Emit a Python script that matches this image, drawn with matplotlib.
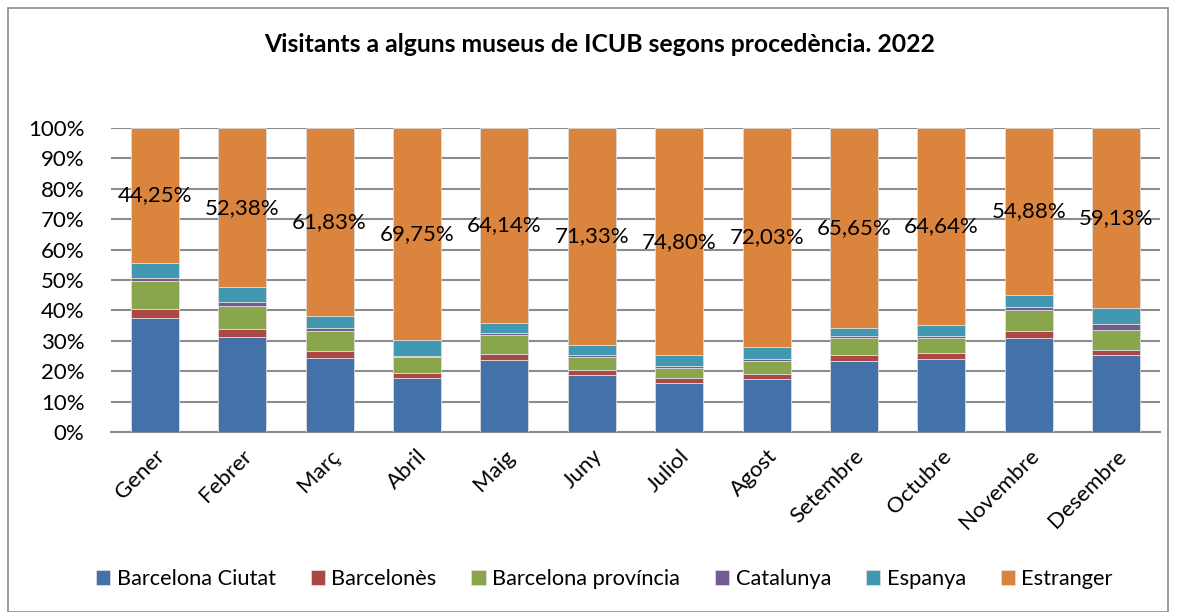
import numpy as np
import matplotlib.pyplot as plt
from matplotlib.patches import Rectangle

# DADES (percentatges per mes, llegits del gràfic)
mesos = ['Gener', 'Febrer', 'Març', 'Abril', 'Maig', 'Juny',
         'Juliol', 'Agost', 'Setembre', 'Octubre', 'Novembre', 'Desembre']

barcelona_ciutat = [37.6, 31.4, 24.5, 17.8, 23.8, 18.6, 16.2, 17.4, 23.4, 24.0, 31.0, 25.2]
barcelones = [2.8, 2.4, 2.1, 1.6, 2.0, 1.8, 1.6, 1.7, 1.8, 1.9, 2.2, 1.8]
barcelona_provincia = [9.2, 7.8, 6.6, 5.2, 6.0, 4.3, 3.4, 4.2, 5.6, 4.9, 6.9, 6.4]
catalunya = [1.1, 1.2, 1.0, 0.5, 0.9, 0.5, 0.6, 0.6, 0.8, 0.7, 1.0, 2.1]
espanya = [5.05, 4.82, 3.97, 5.15, 3.16, 3.47, 3.40, 4.07, 2.75, 3.86, 4.02, 5.37]
estranger = [44.25, 52.38, 61.83, 69.75, 64.14, 71.33, 74.80, 72.03, 65.65, 64.64, 54.88, 59.13]

series = [
    ('Barcelona Ciutat', barcelona_ciutat, '#4472a8'),
    ('Barcelonès', barcelones, '#ab4744'),
    ('Barcelona província', barcelona_provincia, '#8aa64c'),
    ('Catalunya', catalunya, '#735a93'),
    ('Espanya', espanya, '#4298b0'),
    ('Estranger', estranger, '#db843d'),
]

plt.rcParams['font.family'] = ['Lato', 'DejaVu Sans']

fig = plt.figure(figsize=(11.78, 6.12), dpi=100)
ax = fig.add_axes([111 / 1178, 1 - 432 / 612, 1049 / 1178, 304 / 612])

x = np.arange(len(mesos))
bottom = np.zeros(len(mesos))
for nom, vals, color in series:
    vals = np.array(vals)
    ax.bar(x, vals, 0.55, bottom=bottom, color=color, label=nom,
           edgecolor='#dcdcdc', linewidth=0.6, zorder=3)
    if nom == 'Estranger':
        for xi, b, v in zip(x, bottom, vals):
            txt = f'{v:.2f}%'.replace('.', ',')
            ax.text(xi, b + v / 2, txt, ha='center', va='center',
                    fontsize=16, color='black', zorder=4)
    bottom += vals

ax.set_xlim(-0.5, len(mesos) - 0.5)
ax.set_ylim(0, 100)
ax.set_yticks(np.arange(0, 101, 10))
ax.set_yticklabels([f'{v}%' for v in range(0, 101, 10)], fontsize=16)
ax.set_xticks(x)
ax.set_xticklabels(mesos, rotation=45, ha='right', rotation_mode='anchor', fontsize=16)
ax.tick_params(axis='y', length=0, pad=19)
ax.tick_params(axis='x', length=0, pad=10)
ax.grid(axis='y', color='#8c8c8c', linewidth=1.5, zorder=0)
for s in ['top', 'right', 'left']:
    ax.spines[s].set_visible(False)
ax.spines['bottom'].set_color('#8c8c8c')
ax.spines['bottom'].set_linewidth(1.5)

fig.text(0.509, 1 - 45 / 612, 'Visitants a alguns museus de ICUB segons procedència. 2022',
         ha='center', va='center', fontsize=17.8, fontweight='bold')

fig.legend(loc='center', bbox_to_anchor=(0.513, 1 - 579 / 612), ncol=6, frameon=False,
           fontsize=15.7, handlelength=0.65, handleheight=0.65, handletextpad=0.3,
           columnspacing=1.6)

# marc del gràfic
fig.patches.append(Rectangle((8 / 1178, 0), 1160 / 1178, 1 - 8 / 612, transform=fig.transFigure,
                             fill=False, edgecolor='#8c8c8c', linewidth=1.2))

fig.savefig('out.png', dpi=100)
